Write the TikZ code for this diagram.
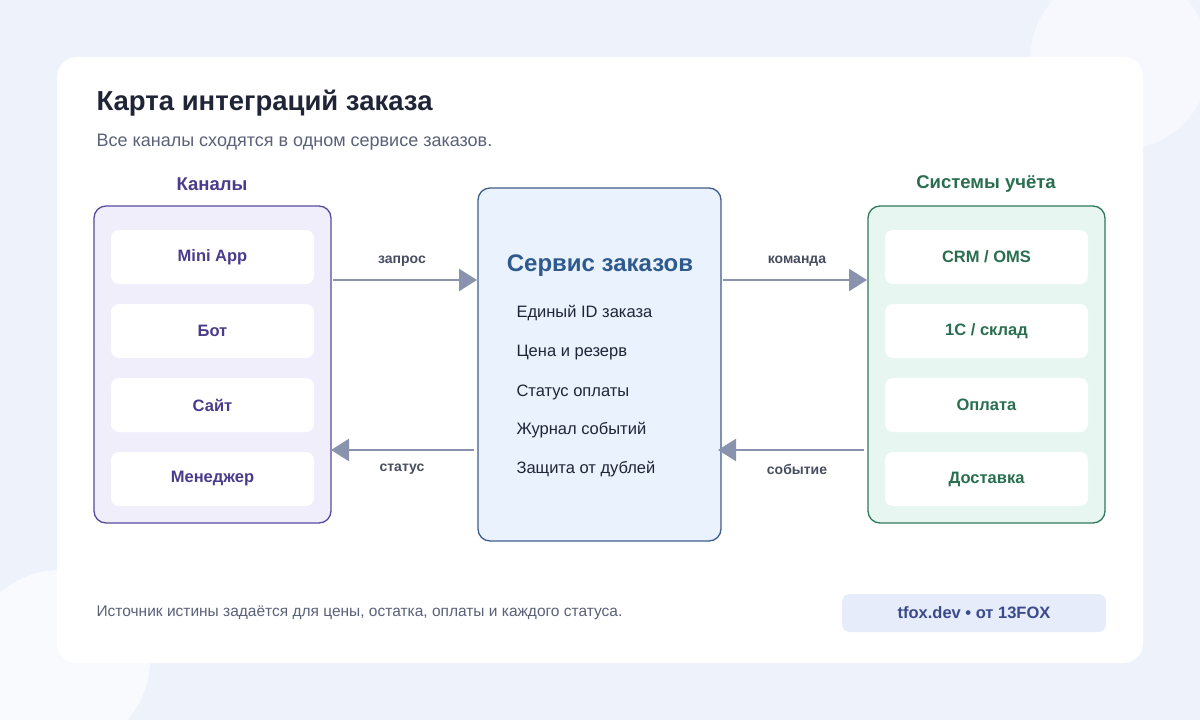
\documentclass[tikz,border=0pt]{standalone}
\usepackage{fontspec}
\setmainfont{Liberation Sans}
\usetikzlibrary{arrows.meta}
\definecolor{bg}{HTML}{EEF2FB}
\definecolor{ttl}{HTML}{1F2437}
\definecolor{sub}{HTML}{5A6178}
\definecolor{pur}{HTML}{4B3B8C}
\definecolor{purf}{HTML}{F1EEFC}
\definecolor{purs}{HTML}{5B4B9E}
\definecolor{blf}{HTML}{EAF2FD}
\definecolor{bls}{HTML}{3F5E8C}
\definecolor{blt}{HTML}{2E5A8E}
\definecolor{grf}{HTML}{E7F6F1}
\definecolor{grs}{HTML}{2F7A5B}
\definecolor{grt}{HTML}{2A6E50}
\definecolor{arr}{HTML}{8A93AD}
\definecolor{badge}{HTML}{E6ECFA}
\definecolor{badget}{HTML}{3A4A8C}
\begin{document}
\begin{tikzpicture}[x=1pt,y=-1pt,
  grp/.style={draw, line width=1.3pt, rounded corners=12pt},
  item/.style={fill=white, rounded corners=8pt, minimum width=203pt, minimum height=54pt, inner sep=0pt, font=\fontsize{16.5}{19}\selectfont\bfseries},
  li/.style={anchor=west, font=\fontsize{16.5}{19}\selectfont, text=ttl},
  lab/.style={font=\fontsize{14}{17}\selectfont\bfseries, text=sub!80!black},
  ar/.style={draw=arr, line width=2.5pt, -{Triangle[length=18pt,width=22pt]}}]
\useasboundingbox (0,0) rectangle (1200,720);
\fill[bg] (0,0) rectangle (1200,720);
\fill[white,opacity=0.5] (1120,60) circle (90);
\fill[purf!80!blue!5,opacity=0.8] (60,660) circle (90);
\fill[white, rounded corners=20pt] (57,57) rectangle (1143,663);
\node[anchor=west, font=\fontsize{27.5}{32}\selectfont\bfseries, text=ttl] (title) at (93,103) {Карта интеграций заказа};
\node[anchor=west, font=\fontsize{18}{21}\selectfont, text=sub] (subt) at (93,142) {Все каналы сходятся в одном сервисе заказов.};
% left
\node[font=\fontsize{18.5}{22}\selectfont\bfseries, text=pur] (lh) at (212,184) {Каналы};
\draw[grp, draw=purs, fill=purf] (94,206) rectangle (331,523);
\node[item, text=pur] (l1) at (212.5,257) {Mini App};
\node[item, text=pur] (l2) at (212.5,331) {Бот};
\node[item, text=pur] (l3) at (212.5,405) {Сайт};
\node[item, text=pur] (l4) at (212.5,479) {Менеджер};
% center
\draw[grp, draw=bls, fill=blf] (478,188) rectangle (721,541);
\node[font=\fontsize{24}{28}\selectfont\bfseries, text=blt] (ct) at (600,266) {Сервис заказов};
\node[li] (c1) at (513,313) {Единый ID заказа};
\node[li] (c2) at (513,353) {Цена и резерв};
\node[li] (c3) at (513,392) {Статус оплаты};
\node[li] (c4) at (513,430) {Журнал событий};
\node[li] (c5) at (513,469) {Защита от дублей};
% right
\node[font=\fontsize{18.5}{22}\selectfont\bfseries, text=grt] (rh) at (986,184) {Системы учёта};
\draw[grp, draw=grs, fill=grf] (868,206) rectangle (1105,523);
\node[item, text=grt] (r1) at (986.5,257) {CRM / OMS};
\node[item, text=grt] (r2) at (986.5,331) {1С / склад};
\node[item, text=grt] (r3) at (986.5,405) {Оплата};
\node[item, text=grt] (r4) at (986.5,479) {Доставка};
% arrows
\coordinate (a1) at (333,280); \coordinate (a2) at (477,280);
\coordinate (b1) at (474,450); \coordinate (b2) at (331,450);
\coordinate (c1a) at (723,280); \coordinate (c2a) at (867,280);
\coordinate (d1) at (864,450); \coordinate (d2) at (718,450);
\draw[ar] (a1) -- (a2);
\draw[ar] (b1) -- (b2);
\draw[ar] (c1a) -- (c2a);
\draw[ar] (d1) -- (d2);
\node[lab] (la) at (402,261) {запрос};
\node[lab] (lb) at (402,469) {статус};
\node[lab] (lc) at (797,261) {команда};
\node[lab] (ld) at (797,469) {событие};
% footer
\node[anchor=west, font=\fontsize{15.5}{18}\selectfont, text=sub] (foot) at (93,613) {Источник истины задаётся для цены, остатка, оплаты и каждого статуса.};
\fill[badge, rounded corners=8pt] (842,594) rectangle (1106,632);
\node[font=\fontsize{16.5}{19}\selectfont\bfseries, text=badget] (bt) at (974,613) {tfox.dev • от 13FOX};
\end{tikzpicture}
\end{document}
